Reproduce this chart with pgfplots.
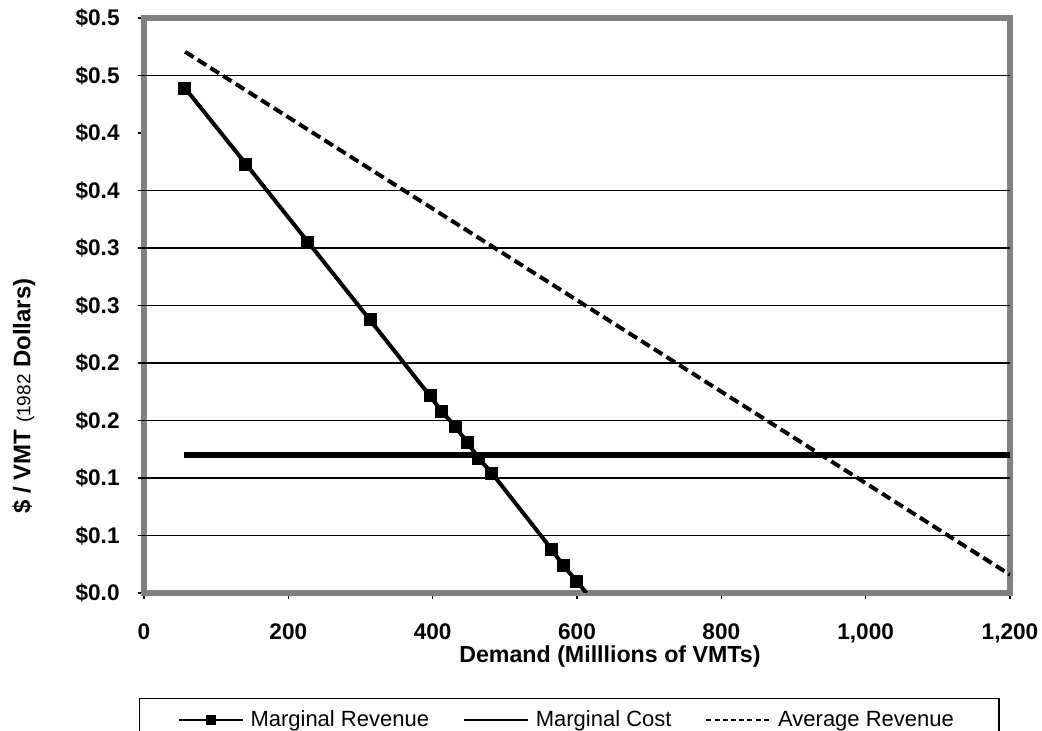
\documentclass[border=0pt]{standalone}
\usepackage{fontspec}
\setmainfont{Liberation Sans}
\usepackage{pgfplots}
\pgfplotsset{compat=1.18}
\definecolor{axisgray}{RGB}{128,128,128}
\begin{document}
\begin{tikzpicture}
\useasboundingbox (-72pt,-69pt) rectangle (449pt,296.5pt);
\begin{axis}[
  at={(0pt,0pt)}, anchor=south west,
  scale only axis, width=433pt, height=287.5pt,
  xmin=0, xmax=1200, ymin=0, ymax=0.5,
  axis line style={axisgray, line width=3pt},
  tick pos=left, tick align=outside, major tick length=3pt,
  tick style={black, line width=0.7pt},
  xtick={0,200,400,600,800,1000,1200},
  xticklabels={0,200,400,600,800,{1,000},{1,200}},
  ytick={0,0.05,0.1,0.15,0.2,0.25,0.3,0.35,0.4,0.45,0.5},
  yticklabels={\$0.0,\$0.1,\$0.1,\$0.2,\$0.2,\$0.3,\$0.3,\$0.4,\$0.4,\$0.5,\$0.5},
  ticklabel style={font=\bfseries\fontsize{11.3}{13}\selectfont},
  xticklabel style={inner sep=0pt, anchor=north, yshift=-12pt},
  yticklabel style={inner sep=0pt, anchor=east, xshift=-9pt},
  extra y ticks={0.05,0.1,0.15,0.2,0.25,0.3,0.35,0.45},
  extra y tick labels={},
  extra y tick style={grid=major},
  major grid style={black, line width=0.9pt},
  xlabel={Demand (Milllions of VMTs)},
  xlabel style={at={(axis description cs:0.538,-0.1113)}, anchor=center, inner sep=0pt, font=\bfseries\fontsize{11.6}{13}\selectfont},
  ylabel={\$ / VMT {\mdseries\fontsize{9.5}{11}\selectfont(1982} Dollars)},
  ylabel style={at={(axis description cs:-0.1386,0.3426)}, anchor=center, inner sep=0pt, font=\bfseries\fontsize{12}{14}\selectfont},
  legend columns=3,
  legend style={at={(axis description cs:-0.00577,-0.1826)}, anchor=north west,
    draw=black, line width=0.7pt, inner xsep=19pt, inner ysep=6pt,
    font=\fontsize{11}{12}\selectfont,
    nodes={inner xsep=3.5pt, inner ysep=0pt},
    /tikz/every even column/.append style={column sep=13.5pt}},
  legend image code/.code={\draw[mark repeat=2,mark phase=2,#1] plot coordinates {(0pt,0pt) (16pt,0pt) (32pt,0pt)};},
]
\addplot[black, line width=2pt, mark=square*, mark size=3pt, mark options={solid, line width=0.5pt},
  legend image post style={line width=0.9pt, mark size=2.2pt}]
  coordinates {
  (56.8,0.4391) (141.3,0.3730) (227.2,0.3052) (313.2,0.2374)
  (396.3,0.1713) (412.9,0.1577) (431.4,0.1446) (448.0,0.1310)
  (463.8,0.1171) (482.2,0.1041) (564.9,0.0380) (581.0,0.0237)
  (599.6,0.0104)
  };
\addlegendentry{Marginal Revenue}
\addplot[black, line width=2pt, forget plot]
  coordinates {(599.6,0.0104) (613,0)};
\addplot[black, line width=3.3pt, legend image post style={line width=0.9pt}]
  coordinates {(56,0.12) (1200,0.12)};
\addlegendentry{Marginal Cost}
\addplot[black, line width=2pt, dash pattern=on 5pt off 2.5pt,
  legend image post style={line width=0.8pt, dash pattern=on 2.5pt off 1.6pt}]
  coordinates {(57,0.4706) (200,0.4137) (400,0.3342) (600,0.2546) (800,0.1751) (1000,0.0955) (1200,0.0159)};
\addlegendentry{Average Revenue}
\end{axis}
\end{tikzpicture}
\end{document}
